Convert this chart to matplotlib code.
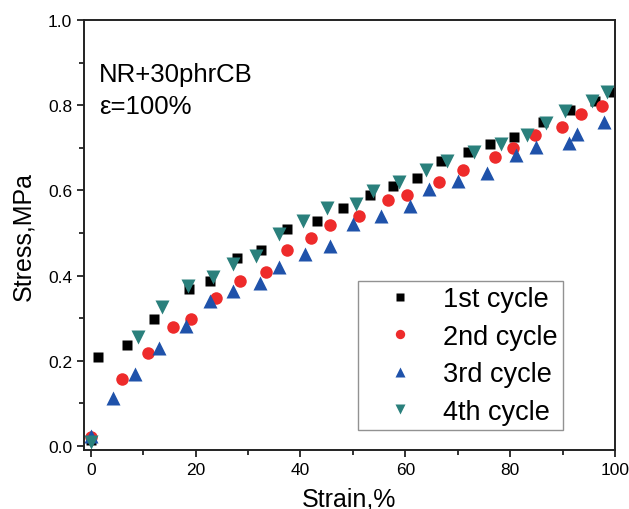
import numpy as np
import matplotlib
matplotlib.use('Agg')
import matplotlib.pyplot as plt

plt.rcParams['font.family'] = ['Liberation Sans', 'DejaVu Sans']

# data
strain_1 = [0, 1.4, 7.0, 12.0, 18.7, 22.7, 27.8, 32.4, 37.5, 43.1, 48.2, 53.2, 57.7, 62.2, 66.9, 71.9, 76.1, 80.7, 86.3, 91.4, 96.1, 99.7]
stress_1 = [0.015, 0.208, 0.238, 0.298, 0.369, 0.388, 0.441, 0.46, 0.509, 0.529, 0.558, 0.589, 0.61, 0.629, 0.668, 0.689, 0.709, 0.726, 0.76, 0.789, 0.809, 0.83]

strain_2 = [0, 5.9, 10.9, 15.6, 19.2, 23.8, 28.4, 33.4, 37.4, 42.0, 45.6, 51.1, 56.7, 60.4, 66.4, 71.1, 77.2, 80.6, 84.7, 89.9, 93.5, 97.5]
stress_2 = [0.02, 0.157, 0.218, 0.279, 0.298, 0.348, 0.388, 0.408, 0.46, 0.489, 0.519, 0.54, 0.578, 0.589, 0.619, 0.649, 0.679, 0.70, 0.73, 0.75, 0.779, 0.799]

strain_3 = [0, 4.3, 8.4, 13.0, 18.1, 22.7, 27.2, 32.3, 35.9, 40.8, 45.6, 50.1, 55.3, 60.9, 64.5, 70.0, 75.5, 81.2, 84.9, 91.3, 92.8, 98.0]
stress_3 = [0.024, 0.112, 0.17, 0.231, 0.281, 0.341, 0.365, 0.382, 0.421, 0.451, 0.47, 0.522, 0.541, 0.563, 0.603, 0.623, 0.642, 0.683, 0.701, 0.711, 0.732, 0.761]

strain_4 = [0, 9.0, 13.5, 18.6, 23.3, 27.2, 31.6, 35.9, 40.5, 45.0, 50.6, 53.8, 58.8, 63.9, 67.9, 73.1, 78.2, 83.3, 86.8, 90.5, 95.6, 98.5]
stress_4 = [0.009, 0.256, 0.326, 0.376, 0.396, 0.427, 0.447, 0.498, 0.529, 0.558, 0.568, 0.598, 0.62, 0.649, 0.668, 0.689, 0.709, 0.73, 0.758, 0.787, 0.809, 0.83]

labels = ['1st cycle', '2nd cycle', '3rd cycle', '4th cycle']

fig = plt.figure(figsize=(6.29, 5.10), dpi=100)
ax = fig.add_axes([0.1335, 0.1157, 0.8442, 0.8431])

ax.plot(strain_1, stress_1, 's', color='black', ms=7.5, mec='none', label=labels[0])
ax.plot(strain_2, stress_2, 'o', color='#EE2B2B', ms=9, mec='none', label=labels[1])
ax.plot(strain_3, stress_3, '^', color='#1F52AA', ms=9.5, mec='none', label=labels[2])
ax.plot(strain_4, stress_4, 'v', color='#2A807C', ms=9.5, mec='none', label=labels[3])

ax.set_xlim(-1.3, 100)
ax.set_ylim(-0.0094, 1.0)
ax.set_xticks(np.arange(0, 101, 20))
ax.set_xticks(np.arange(10, 100, 20), minor=True)
ax.set_yticks(np.arange(0, 1.01, 0.2))
ax.set_yticks(np.arange(0.1, 1.0, 0.2), minor=True)
ax.yaxis.set_major_formatter(matplotlib.ticker.FormatStrFormatter('%.1f'))
ax.tick_params(which='both', direction='out', top=False, right=False, labelsize=12.5, width=1.3, color='#222222')
ax.tick_params(which='major', length=5)
ax.tick_params(which='minor', length=3.5)
for s in ax.spines.values():
    s.set_linewidth(1.4)
    s.set_color('#222222')

ax.set_xlabel('Strain,%', fontsize=18, labelpad=7)
ax.set_ylabel('Stress,MPa', fontsize=18, labelpad=9)

ax.text(0.028, 0.858, 'NR+30phrCB', transform=ax.transAxes, fontsize=18.5, va='baseline')
ax.text(0.028, 0.784, 'ε=100%', transform=ax.transAxes, fontsize=18.5, va='baseline')

leg = ax.legend(loc='upper left', bbox_to_anchor=(0.516, 0.393), borderaxespad=0, fontsize=19.5,
                frameon=True, fancybox=False, edgecolor='#777777', markerscale=0.75,
                handlelength=2.7, handletextpad=0.25, labelspacing=0.42, borderpad=0.2)
leg.get_frame().set_linewidth(1.0)

fig.savefig('out.png', dpi=100)
